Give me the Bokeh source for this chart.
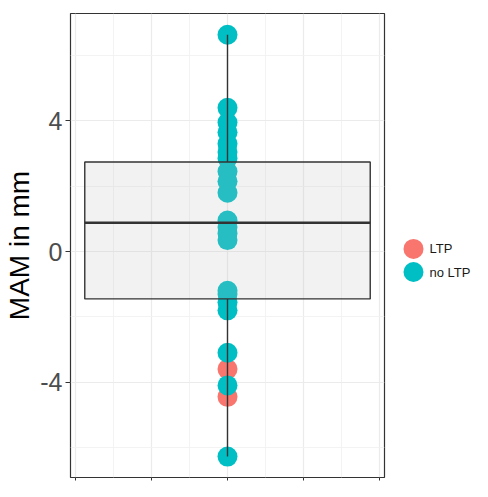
from bokeh.plotting import figure
from bokeh.layouts import row
from bokeh.models import Range1d, FixedTicker, ColumnDataSource
from bokeh.core.properties import value
from bokeh.embed import file_html
from bokeh.resources import INLINE

# ---- data ----
groups = ["LTP", "no LTP"]
group_colors = ["#F8766D", "#00BFC4"]

ltp_values = [-3.60, -4.45]
no_ltp_values = [6.64, 4.40, 3.95, 3.65, 3.30, 3.05, 2.85, 2.45, 2.15, 1.80,
                 0.95, 0.75, 0.55, 0.35, -1.20, -1.30, -1.55, -1.80,
                 -3.10, -4.10, -6.28]

# boxplot statistics
box_min = [-6.28]
box_q1 = [-1.45]
box_median = [0.88]
box_q3 = [2.74]
box_max = [6.64]
box_x = [0.0]
box_width = 0.75

x_ticks = [-0.4, -0.2, 0.0, 0.2, 0.4]
x_minor_ticks = [-0.3, -0.1, 0.1, 0.3]
y_ticks = [-4, 0, 4]
y_minor_ticks = [-6, -2, 2, 6]
y_tick_labels = ["-4", "0", "4"]
y_label = "MAM in mm"

FONT = "Liberation Sans"
H = 481

p = figure(width=386, height=H,
           x_range=Range1d(-0.4125, 0.4125), y_range=Range1d(-6.92, 7.29),
           toolbar_location=None, output_backend="svg",
           min_border_left=70, min_border_right=2, min_border_top=13, min_border_bottom=3)
p.background_fill_color = "white"
p.border_fill_color = "white"
p.outline_line_color = "#333333"
p.outline_line_width = 1.2

# x axis: ticks only (labels fall outside the picture)
xt = FixedTicker(ticks=x_ticks, minor_ticks=x_minor_ticks)
xa = p.xaxis[0]
xa.ticker = xt
xa.axis_line_color = None
xa.major_tick_line_color = "#333333"
xa.major_tick_out = 3
xa.major_tick_in = 0
xa.minor_tick_line_color = None
xa.major_label_text_font_size = "1px"
xa.major_label_text_alpha = 0
xa.major_label_standoff = 0

# y axis
yt = FixedTicker(ticks=y_ticks, minor_ticks=y_minor_ticks)
ax = p.yaxis[0]
ax.ticker = yt
ax.major_label_overrides = {t: s for t, s in zip(y_ticks, y_tick_labels)}
ax.axis_line_color = None
ax.major_tick_line_color = "#333333"
ax.major_tick_line_width = 1.1
ax.major_tick_out = 5
ax.major_tick_in = 0
ax.minor_tick_line_color = None
ax.major_label_text_font = FONT
ax.major_label_text_font_size = "25px"
ax.major_label_text_color = "#4D4D4D"
ax.major_label_standoff = 3
ax.axis_label = y_label
ax.axis_label_text_font = FONT
ax.axis_label_text_font_size = "28px"
ax.axis_label_text_font_style = "normal"
ax.axis_label_text_color = "black"
ax.axis_label_standoff = 2

for g, t in ((p.xgrid, xt), (p.ygrid, yt)):
    g.ticker = t
    g.grid_line_color = "#EBEBEB"
    g.grid_line_width = 1.2
    g.minor_grid_line_color = "#F2F2F2"
    g.minor_grid_line_width = 0.9

# points
for name, col, vals in zip(groups, group_colors, [ltp_values, no_ltp_values]):
    src = ColumnDataSource(dict(x=[box_x[0]] * len(vals), y=vals))
    p.scatter("x", "y", source=src, size=20, fill_color=col, line_color=None)

# boxplot drawn over the points
bs = ColumnDataSource(dict(x=box_x, lo=box_min, q1=box_q1, med=box_median, q3=box_q3, hi=box_max,
                           left=[box_x[0] - box_width / 2], right=[box_x[0] + box_width / 2]))
p.quad(left="left", right="right", bottom="q1", top="q3", source=bs,
       fill_color="#BEBEBE", fill_alpha=0.2, line_color="#333333", line_width=1.4)
p.segment(x0="x", y0="q3", x1="x", y1="hi", source=bs, line_color="#333333", line_width=1.4)
p.segment(x0="x", y0="q1", x1="x", y1="lo", source=bs, line_color="#333333", line_width=1.4)
p.segment(x0="left", y0="med", x1="right", y1="med", source=bs, line_color="#333333", line_width=2.6)

# ---- legend panel (one row per group, 24 px apart) ----
ROW = 24.0
first_row_px = 244.0
LW = 86
top_val = -first_row_px / ROW
leg = figure(width=LW, height=H, x_range=Range1d(0, LW),
             y_range=Range1d(top_val + H / ROW, top_val),
             toolbar_location=None, output_backend="svg",
             min_border=0, outline_line_color=None)
leg.axis.visible = False
leg.grid.visible = False
ls = ColumnDataSource(dict(idx=list(range(len(groups))), label=groups, color=group_colors))
leg.scatter(x=27, y="idx", source=ls, size=20, fill_color="color", line_color=None)
leg.text(x=43, y="idx", text="label", source=ls, text_baseline="middle",
         text_font=value(FONT), text_font_size="13px", text_color="#1A1A1A")

layout = row(p, leg, spacing=0)
open("out.html", "w").write(file_html(layout, INLINE))
